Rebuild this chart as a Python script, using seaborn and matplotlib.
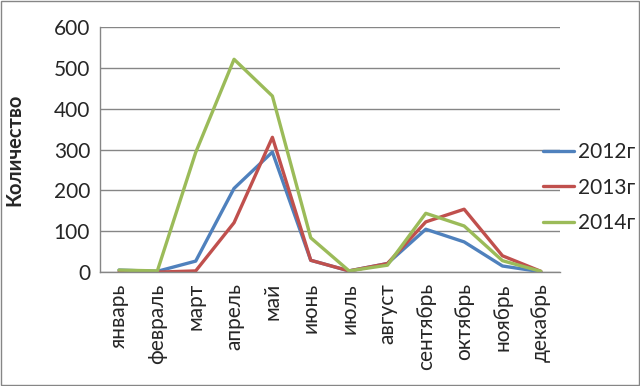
import pandas as pd
import matplotlib.pyplot as plt
import seaborn as sns

# Data
months = ['январь', 'февраль', 'март', 'апрель', 'май', 'июнь',
          'июль', 'август', 'сентябрь', 'октябрь', 'ноябрь', 'декабрь']
y2012 = [5, 2, 27, 205, 294, 29, 3, 21, 105, 74, 15, 1]
y2013 = [0, 0, 3, 121, 330, 29, 3, 21, 123, 154, 40, 2]
y2014 = [5, 3, 293, 521, 431, 84, 3, 17, 144, 113, 28, 2]
series = ['2012г', '2013г', '2014г']
colors = ['#4F81BD', '#C0504D', '#9BBB59']

sns.set_style("white")
plt.rcParams['font.family'] = ['Lato', 'DejaVu Sans']

df = pd.DataFrame({
    'month': months * 3,
    'pos': list(range(12)) * 3,
    'value': y2012 + y2013 + y2014,
    'year': [s for s in series for _ in months],
})

fig = plt.figure(figsize=(6.4, 3.86), dpi=100)
ax = fig.add_axes([0.156, 0.295, 0.719, 0.635])

sns.lineplot(data=df, x='pos', y='value', hue='year', palette=colors,
             linewidth=2.4, ax=ax, legend=True)

ax.set_xlim(-0.5, 11.5)
ax.set_ylim(0, 600)
ax.set_yticks(range(0, 601, 100))
ax.set_xticks(range(12))
ax.set_xticklabels(months, rotation=90, fontsize=15)
ax.tick_params(axis='y', labelsize=15, length=0, pad=7)
ax.tick_params(axis='x', length=0, pad=8)
ax.yaxis.grid(True, color='#868686', linewidth=1)
ax.set_axisbelow(True)
ax.set_xlabel('')
ax.set_ylabel('Количество', fontsize=14.5, fontweight='bold')
ax.yaxis.set_label_coords(-0.163, 0.5)
for side in ['top', 'right']:
    ax.spines[side].set_visible(False)
for side in ['left', 'bottom']:
    ax.spines[side].set_color('#868686')
    ax.spines[side].set_linewidth(1)

handles, labels = ax.get_legend_handles_labels()
ax.legend(handles, labels, loc='upper left',
          bbox_to_anchor=(543 / 640, 1 - 142 / 386),
          bbox_transform=fig.transFigure, borderpad=0, borderaxespad=0,
          frameon=False, fontsize=15, handlelength=1.5, labelspacing=0.75,
          handletextpad=0.2)

# outer chart border
fig.patches.append(plt.Rectangle((0.002, 0.003), 0.996, 0.994,
                                 transform=fig.transFigure, fill=False,
                                 edgecolor='#868686', linewidth=1))

plt.savefig('out.png', dpi=100)
plt.close()
